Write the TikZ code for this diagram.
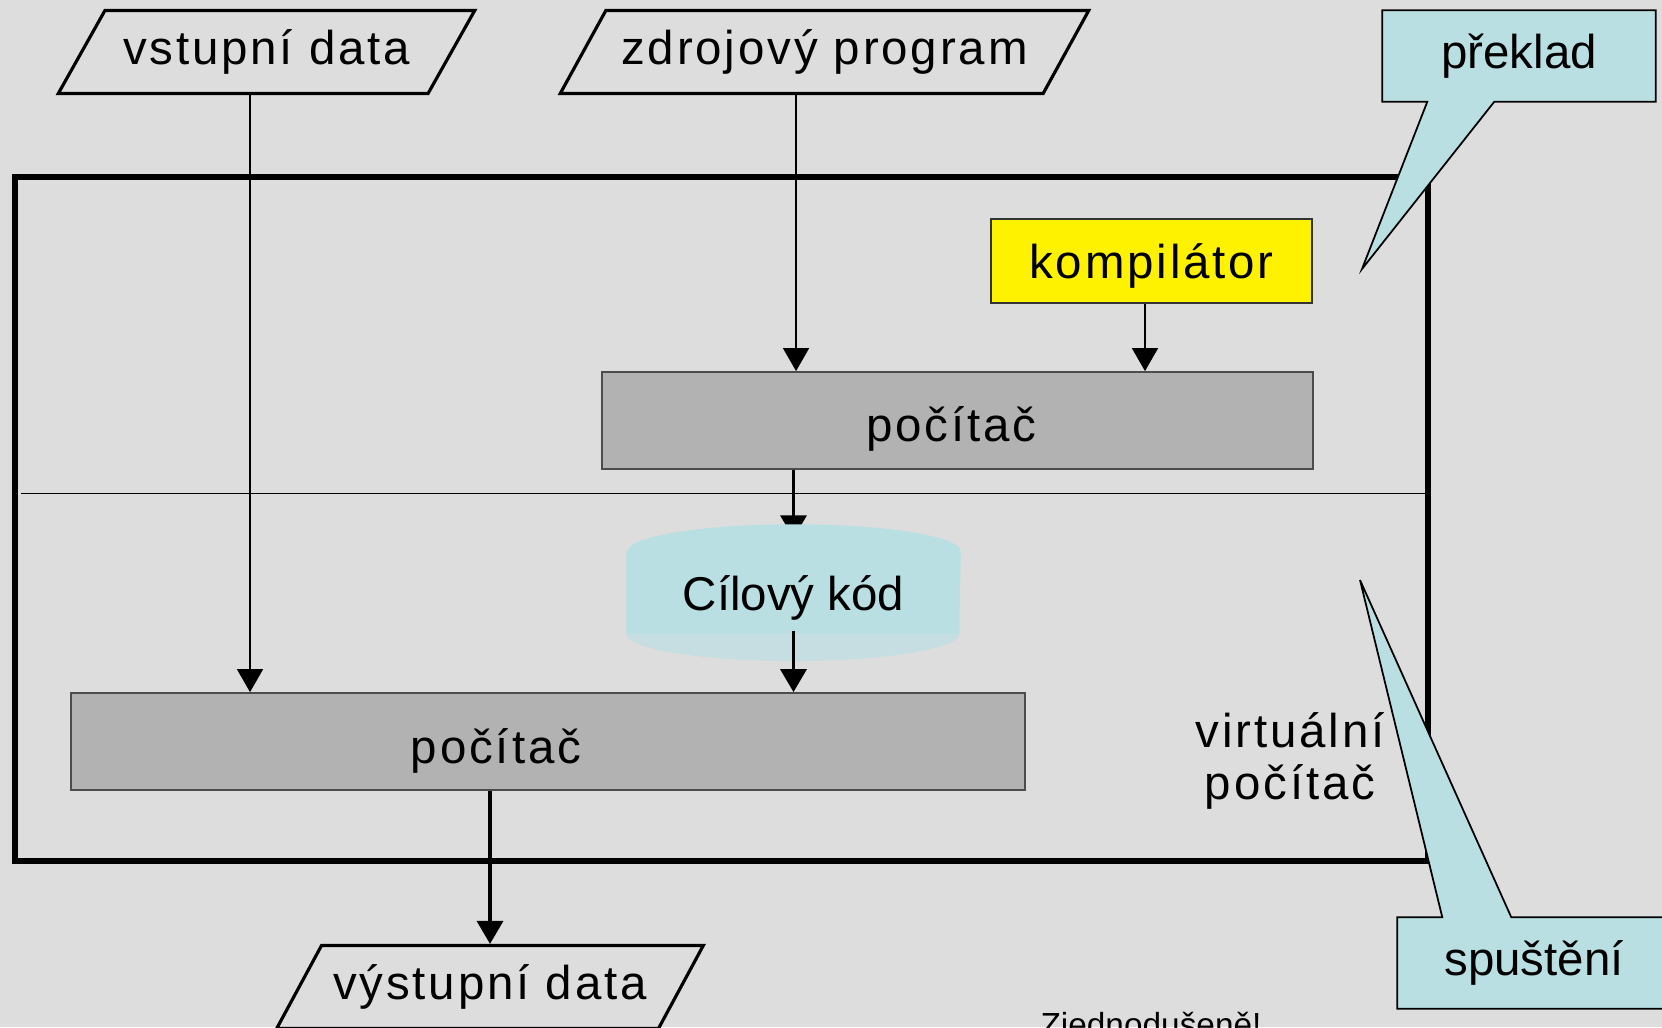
\documentclass[tikz,border=0pt]{standalone}
\usepackage{fontspec}
\setmainfont{Liberation Sans}
\newfontfamily\spacedfont[LetterSpace=6]{Liberation Sans}
\usetikzlibrary{positioning, calc, shapes.geometric, arrows.meta}
\pgfdeclarelayer{bg}
\pgfsetlayers{bg,main}
\definecolor{granit}{RGB}{221,221,221}
\definecolor{pcgray}{RGB}{178,178,178}
\definecolor{calloutblue}{RGB}{185,223,227}
\tikzset{
	arrow/.style={line width=0.4pt, -{Triangle[width=2.6mm, length=2.3mm]}},
	thickarrow/.style={arrow, line width=1pt},
	txt/.style={font=\spacedfont\fontsize{13.5}{15}\selectfont},
	plaintxt/.style={font=\fontsize{13.5}{15}\selectfont},
	data/.style={txt, trapezium, trapezium left angle=56.7, trapezium right angle=123.3,
		trapezium stretches=true, draw, line width=0.9pt, minimum height=8.3mm},
	pcbox/.style={draw=black!70, fill=pcgray, line width=0.5pt, minimum height=9.7mm},
	compbox/.style={draw=black!80, fill=yellow, line width=0.5pt,
		minimum width=3.21cm, minimum height=8.4mm},
	callout/.style={plaintxt, minimum width=2.72cm, minimum height=9mm},
	calloutline/.style={fill=calloutblue, draw, line width=0.5pt, line join=miter},
}

\begin{document}
\begin{tikzpicture}
	\useasboundingbox (0,0) rectangle (16.62,-10.27);
	\clip (0,0) rectangle (16.62,-10.27);

	\node[data, minimum width=4.17cm] (vd) at (2.665,-0.52) {vstupní data};
	\node[data, minimum width=5.29cm] (zp) at (8.245,-0.52) {zdrojový program};
	\node[compbox, label={[txt, yshift=-0.5mm]center:kompilátor}] (komp) at (11.515,-2.61) {};
	\node[pcbox, minimum width=7.11cm,
		label={[txt, xshift=-0.6mm, yshift=-0.8mm]center:počítač}] (pc1) at (9.575,-4.205) {};
	\node[minimum width=3.33cm, minimum height=1.35cm,
		label={[plaintxt, yshift=-0.5mm]center:Cílový kód}] (ck) at (7.935,-5.925) {};
	\node[pcbox, minimum width=9.54cm,
		label={[txt, xshift=-5.2mm, yshift=-0.9mm]center:počítač}] (pc2) at (5.48,-7.415) {};
	\node[data, minimum width=4.16cm] (od) at (4.90,-9.87) {výstupní data};
	\node[txt, align=center] (vp) at (12.90,-7.61) {virtuální\\počítač};

	\node[callout] (pk) at (15.19,-0.56) {překlad};
	\node[callout] (sp) at (15.34,-9.63) {spuštění};
	\coordinate (pktip) at (13.62,-2.69);
	\coordinate (sptip) at (13.60,-5.80);
	\node[font=\fontsize{9.5}{11}\selectfont, anchor=base] (zj) at (11.51,-10.36) {Zjednodušeně!};

	\draw[arrow] ([xshift=-1.65mm]vd.south) -- ([xshift=-1.65mm]vd.south |- pc2.north);
	\draw[arrow] ([xshift=-2.85mm]zp.south) -- ([xshift=-2.85mm]zp.south |- pc1.north);
	\draw[arrow] ([xshift=-0.65mm]komp.south) -- ([xshift=-0.65mm]komp.south |- pc1.north);
	\draw[thickarrow] ([yshift=3mm]ck.south) -- (ck.south |- pc2.north);
	\draw[thickarrow] (od.north |- pc2.south) -- (od.north);

	\begin{pgfonlayer}{bg}
		\fill[granit] (0,0) rectangle (16.62,-10.27);
		\draw[line width=1.6pt] (0.15,-1.77) rectangle (14.28,-8.61);
		\draw[line width=0.4pt] (0.21,-4.935) -- (14.28,-4.935);
		\draw[thickarrow] (pc1.south -| ck) -- ([yshift=-1.4mm]ck.north);
		\fill[calloutblue] ($(ck.north west)+(0,-0.27)$) -- ($(ck.south west)+(0,0.27)$)
			arc[start angle=180, end angle=360, x radius=1.665, y radius=0.27]
			-- ($(ck.north east)+(0,-0.27)$)
			arc[start angle=0, end angle=180, x radius=1.665, y radius=0.27] -- cycle;
		\fill[calloutblue!65!granit] ($(ck.south west)+(0,0.27)$)
			arc[start angle=180, end angle=360, x radius=1.665, y radius=0.27] -- cycle;
		\filldraw[calloutline] (pk.south west) -- (pk.north west) -- (pk.north east) -- (pk.south east)
			-- ($(pk.south west)+(1.12,0)$) -- (pktip) -- ($(pk.south west)+(0.45,0)$) -- cycle;
		\filldraw[calloutline] (sp.north west) -- ($(sp.north west)+(0.45,0)$) -- (sptip)
			-- ($(sp.north west)+(1.14,0)$) -- (sp.north east) -- (sp.south east) -- (sp.south west) -- cycle;
	\end{pgfonlayer}
\end{tikzpicture}
\end{document}
